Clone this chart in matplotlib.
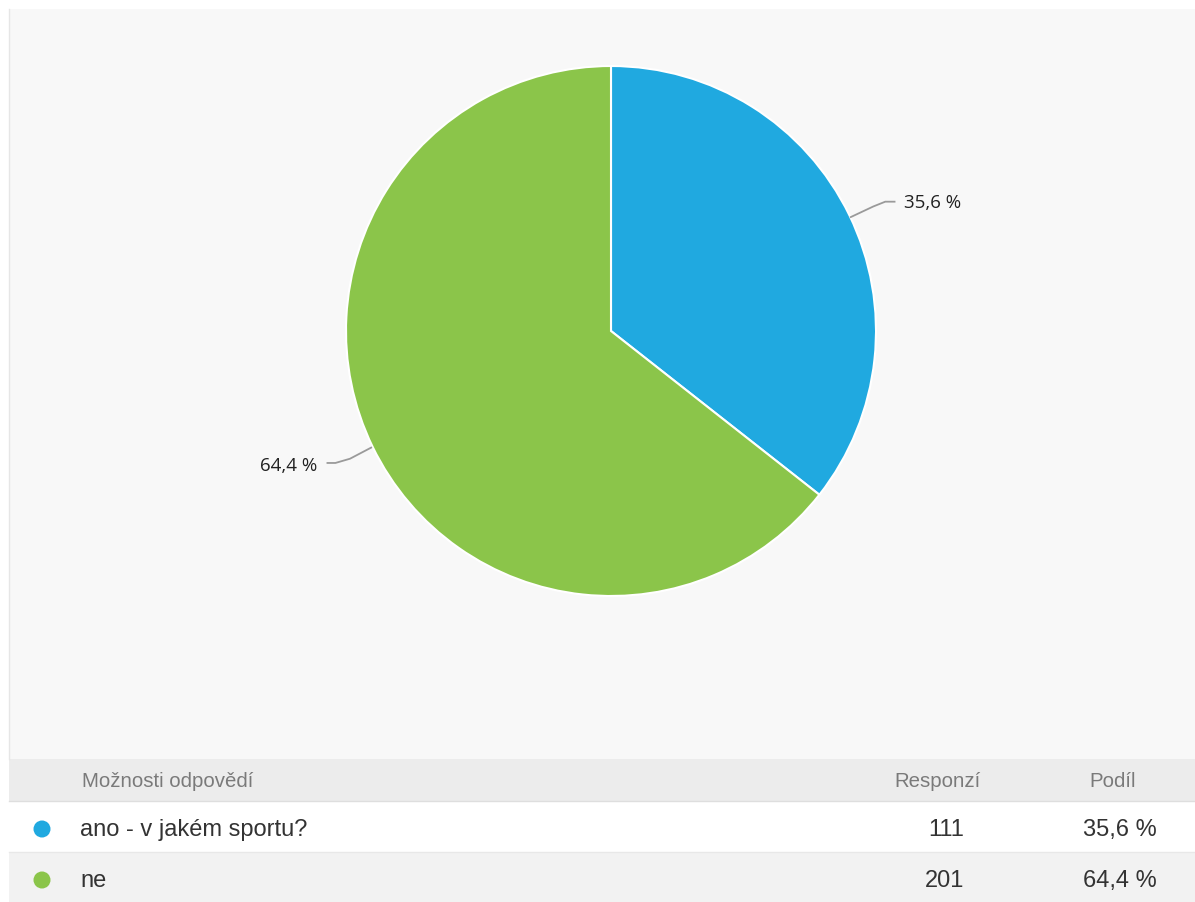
import matplotlib
matplotlib.use("Agg")
import matplotlib.pyplot as plt
from matplotlib.patches import Rectangle, Circle

# Survey answers
categories = ["ano - v jakém sportu?", "ne"]
responses = [111, 201]
shares = [35.6, 64.4]
share_labels = ["35,6 %", "64,4 %"]
colors = ["#20a9e0", "#8bc54a"]

W, H = 1195, 903
fig = plt.figure(figsize=(W / 100, H / 100), dpi=100)
fig.patch.set_facecolor("white")

# Background layer in pixel coordinates (y grows downward)
bg = fig.add_axes([0, 0, 1, 1])
bg.set_xlim(0, W)
bg.set_ylim(H, 0)
bg.axis("off")

# Chart panel
bg.add_patch(Rectangle((9, 10), W - 9, 750, facecolor="#f8f8f8", edgecolor="none"))
bg.plot([9.5, 9.5], [10, 760], color="#e6e6e6", lw=1)

# Table rows
bg.add_patch(Rectangle((9, 760), W - 9, 42, facecolor="#ececec", edgecolor="none"))
bg.plot([9, W], [802, 802], color="#dedede", lw=1)
bg.add_patch(Rectangle((9, 802), W - 9, 51, facecolor="white", edgecolor="none"))
bg.add_patch(Rectangle((9, 853), W - 9, 50, facecolor="#f2f2f2", edgecolor="none"))
bg.plot([9, W], [853, 853], color="#e8e8e8", lw=1)

font_tbl = "Liberation Sans"
bg.text(82, 782, "Možnosti odpovědí", fontsize=14.7, color="#7a7a7a",
        family=font_tbl, va="center", ha="left")
bg.text(938, 782, "Responzí", fontsize=14.7, color="#7a7a7a",
        family=font_tbl, va="center", ha="center")
bg.text(1113, 782, "Podíl", fontsize=14.7, color="#7a7a7a",
        family=font_tbl, va="center", ha="center")

row_y = [830, 881]
for y, cat, n, lab, col in zip(row_y, categories, responses, share_labels, colors):
    bg.add_patch(Circle((42, y), 8.5, facecolor=col, edgecolor="none"))
    bg.text(80, y, cat, fontsize=17, color="#333333", family=font_tbl,
            va="center", ha="left")
    bg.text(964, y, str(n), fontsize=17, color="#333333", family=font_tbl,
            va="center", ha="right")
    bg.text(1157, y, lab, fontsize=17, color="#333333", family=font_tbl,
            va="center", ha="right")

# Pie chart
cx, cy, r = 611, 332, 265
pie_ax = fig.add_axes([(cx - r) / W, (H - cy - r) / H, 2 * r / W, 2 * r / H])
pie_ax.pie(shares, colors=colors, startangle=90, counterclock=False,
           radius=1, wedgeprops=dict(edgecolor="white", linewidth=1.5))
pie_ax.set_xlim(-1, 1)
pie_ax.set_ylim(-1, 1)
pie_ax.axis("off")

# Leader lines and percentage labels
lbl_font = "Open Sans"
pie_ax.plot([0.905, 0.99, 1.035, 1.07], [0.43, 0.47, 0.488, 0.488],
            color="#9a9a9a", lw=1.3, clip_on=False)
pie_ax.text(1.105, 0.485, share_labels[0], fontsize=13.5, color="#222222",
            family=lbl_font, va="center", ha="left")
pie_ax.plot([-0.905, -0.985, -1.04, -1.07], [-0.44, -0.482, -0.498, -0.498],
            color="#9a9a9a", lw=1.3, clip_on=False)
pie_ax.text(-1.11, -0.505, share_labels[1], fontsize=13.5, color="#222222",
            family=lbl_font, va="center", ha="right")

fig.savefig("out.png", dpi=100, facecolor="white")
